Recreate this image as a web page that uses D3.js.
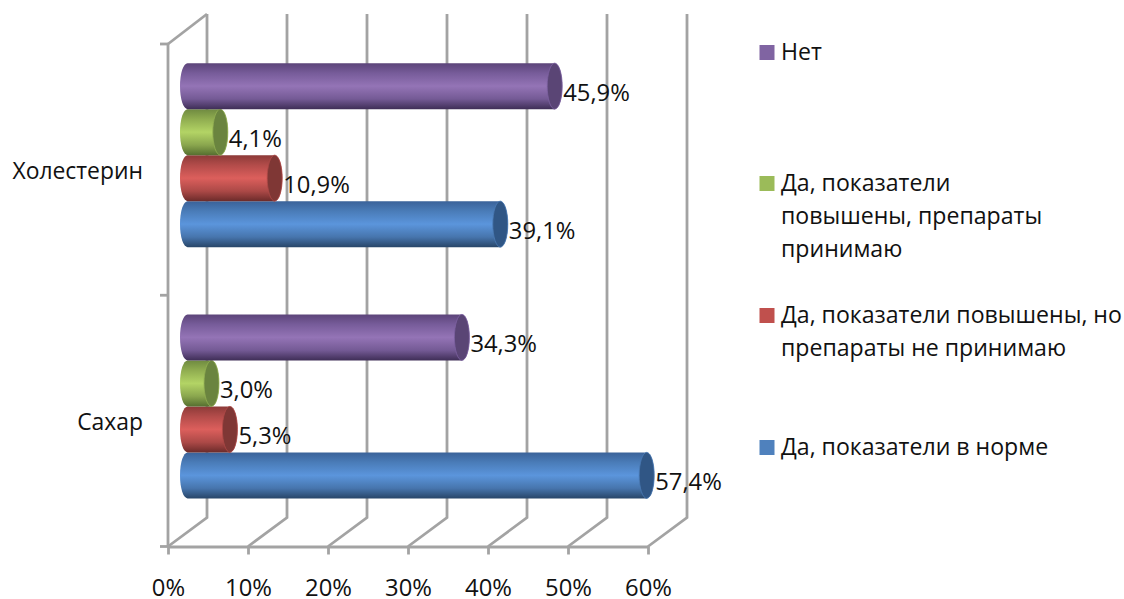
<!DOCTYPE html>
<html><head><meta charset="utf-8">
<script src="https://cdn.jsdelivr.net/npm/d3@7"></script>
<style>html,body{margin:0;background:#fff}svg{display:block}text{font-family:"Open Sans",sans-serif;fill:#111}</style>
</head><body><svg id="c" width="1124" height="599"></svg>
<script>
const categories = ["Холестерин","Сахар"];
const seriesNames = ["Нет","Да, показатели повышены, препараты принимаю","Да, показатели повышены, но препараты не принимаю","Да, показатели в норме"];
const seriesNet = [45.9,34.3];
const seriesTaken = [4.1,3.0];
const seriesNotTaken = [10.9,5.3];
const seriesNormal = [39.1,57.4];
const xTicks = [0,10,20,30,40,50,60];
const legendLines = [["Нет"],["Да, показатели","повышены, препараты","принимаю"],["Да, показатели повышены, но","препараты не принимаю"],["Да, показатели в норме"]];
const palette = [
 {stops:["#5c4479","#775c9a","#9474b6","#745a95","#3f2e57"],cap:"#5a4575",edge:"#7d62a2",key:"#8064a2"},
 {stops:["#6f8a40","#90ad50","#b3d465","#8aa64e","#566f30"],cap:"#6a843f",edge:"#93b053",key:"#9bbb59"},
 {stops:["#8c3a38","#b34c4a","#dc5f5c","#ac4947","#6c2b2a"],cap:"#7f3735",edge:"#b04a48",key:"#c0504d"},
 {stops:["#3a6299","#4a7cb8","#5b95dc","#4775ad","#284669"],cap:"#305685",edge:"#4a7ab4",key:"#4f81bd"}
];
const series = [seriesNet,seriesTaken,seriesNotTaken,seriesNormal];
const FS=23.1, NUM=23.8;
const svg = d3.select("#c");
const defs = svg.append("defs");
const dx=39, dy=-29;
const x = d3.scaleLinear().domain([0,60]).range([168,648]);
const y = d3.scaleBand().domain(categories).range([44,546.5]);
const inner = d3.scaleBand().domain(d3.range(4)).range([0,184]);
const groupTop = c => y(c)+y.bandwidth()/2 + dy/2 - 92;
const bx = v => x(v)+dx/2;
const grid="#a3a3a3";
const sw=2.8;
const g = svg.append("g").attr("fill","none").attr("stroke",grid).attr("stroke-width",sw);
xTicks.forEach(t=>{
  g.append("path").attr("d",d3.line()([[x(t),546.5],[x(t)+dx,546.5+dy],[x(t)+dx,14]]));
});
g.append("path").attr("d",d3.line()([[x(0),44],[x(0)+dx,14]]));
g.append("path").attr("d",d3.line()([[x(0),44],[x(0),546.5]]));
const axX = d3.axisBottom(x).tickValues(xTicks).tickSize(8).tickFormat(d=>d+"%").tickSizeOuter(0);
const ax = svg.append("g").attr("transform","translate(0,546.5)").call(axX);
ax.select(".domain").attr("stroke",grid).attr("stroke-width",sw);
ax.selectAll("line").attr("stroke",grid).attr("stroke-width",sw);
ax.selectAll("text").attr("y",49.5).attr("dy",0).attr("font-size",NUM).style("font-family",'"Open Sans",sans-serif').attr("fill","#111");
[...categories.map(c=>y(c)),546.5].forEach(v=>g.append("line").attr("x1",160).attr("x2",168).attr("y1",v).attr("y2",v));
svg.selectAll(".cat").data(categories).join("text").attr("class","cat").attr("x",143)
  .attr("y",c=>y(c)+y.bandwidth()/2+9).attr("text-anchor","end").attr("font-size",FS-.2).text(d=>d);
palette.forEach((p,i)=>{
  const lg=defs.append("linearGradient").attr("id","g"+i).attr("x1",0).attr("x2",0).attr("y1",0).attr("y2",1);
  [0,.22,.5,.78,1].forEach((o,k)=>lg.append("stop").attr("offset",o).attr("stop-color",p.stops[k]));
});
const rx=7.5;
const labels=[];
for(let ci=0;ci<categories.length;ci++){
  for(let si=3;si>=0;si--){
    const c=categories[ci], v=series[si][ci];
    const t=groupTop(c)+inner(si), h=inner.bandwidth(), ry=h/2, X0=bx(0), X1=bx(v), p=palette[si];
    svg.append("path").attr("fill",`url(#g${si})`)
      .attr("d",`M${X1},${t} L${X0},${t} A${rx},${ry} 0 0 0 ${X0},${t+h} L${X1},${t+h} A${rx},${ry} 0 0 0 ${X1},${t} Z`);
    svg.append("ellipse").attr("cx",X1).attr("cy",t+ry).attr("rx",rx).attr("ry",ry)
      .attr("fill",p.cap).attr("stroke",p.edge).attr("stroke-width",.8);
    labels.push({x:X1+rx+1,y:t+ry+15,t:d3.format(".1f")(v).replace(".",",")+"%"});
  }
}
svg.selectAll(".lab").data(labels).join("text").attr("class","lab").attr("x",d=>d.x).attr("y",d=>d.y).attr("font-size",NUM).text(d=>d.t);
const legendTop=[45,176,308,440], lineH=33;
legendLines.forEach((ls,i)=>{
  svg.append("rect").attr("x",759.5).attr("y",legendTop[i]).attr("width",15).attr("height",15).attr("fill",palette[i].key);
  ls.forEach((l,j)=>svg.append("text").attr("x",781).attr("y",legendTop[i]+15+j*lineH).attr("font-size",FS).text(l));
});
</script></body></html>
